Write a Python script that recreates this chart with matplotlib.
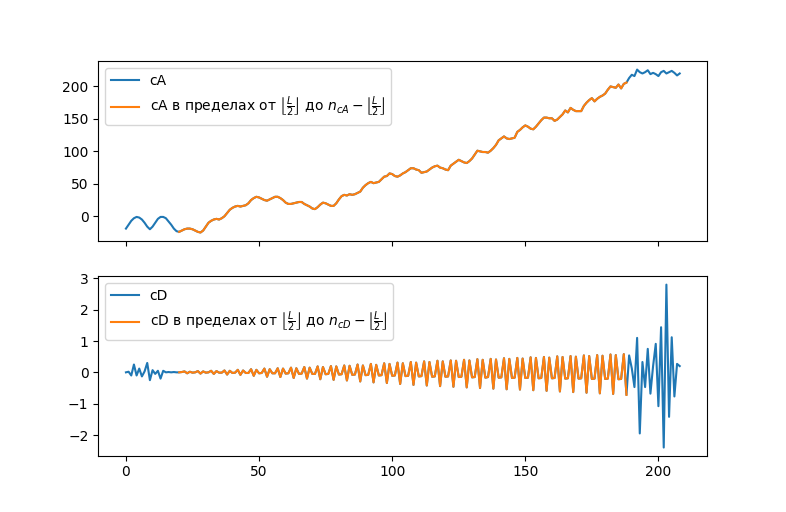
import numpy as np
import matplotlib
matplotlib.use('Agg')
import matplotlib.pyplot as plt

# half filter length, orange part runs from L/2 to n - L/2
half_L = 20

cA = [-19, -13, -7, -3, -1, -2, -5, -10, -16, -20,
      -16, -10, -4, -1, -1, -3, -8, -13, -19, -23,
      -24, -22, -20, -19, -19, -20, -22, -24, -25, -22,
      -16, -10, -7, -5, -4, -5, -3, 0, 5, 10,
      13, 15, 16, 15, 16, 17, 20, 25, 28, 30,
      29, 27, 25, 24, 26, 28, 30, 30, 28, 25,
      21, 19, 19, 20, 21, 22, 22, 19, 17, 15,
      12, 11, 14, 18, 21, 20, 18, 16, 16, 20,
      26, 31, 33, 32, 34, 33, 34, 36, 38, 44,
      48, 51, 53, 51, 52, 53, 57, 61, 62, 66,
      65, 62, 61, 63, 66, 68, 71, 74, 74, 72,
      71, 67, 68, 69, 72, 75, 77, 78, 75, 74,
      72, 71, 78, 81, 84, 87, 85, 83, 82, 85,
      89, 95, 101, 100, 99, 99, 98, 101, 105, 110,
      117, 120, 123, 120, 119, 120, 121, 130, 133, 137,
      140, 138, 135, 134, 138, 143, 148, 152, 152, 151,
      151, 147, 149, 153, 157, 163, 160, 167, 164, 162,
      162, 162, 170, 175, 179, 182, 177, 181, 184, 186,
      189, 195, 200, 199, 198, 203, 197, 204, 206, 213,
      218, 216, 226, 222, 220, 222, 225, 219, 221, 219,
      216, 222, 224, 220, 222, 224, 221, 217, 220]

cD = [0.00, 0.02, -0.10, 0.25, -0.10, 0.12, -0.13, 0.03, 0.30, -0.25,
      0.07, -0.05, 0.05, -0.20, 0.05, 0.00, 0.01, 0.00, 0.01, 0.00,
      0.00, 0.01, 0.03, -0.03, 0.02, -0.01, 0.00, 0.04, -0.04, 0.03,
      -0.01, 0.00, 0.05, -0.05, 0.04, -0.01, -0.01, 0.06, -0.07, 0.05,
      -0.02, -0.01, 0.08, -0.08, 0.06, -0.02, -0.02, 0.10, -0.11, 0.08,
      -0.03, -0.02, 0.12, -0.14, 0.10, -0.03, -0.03, 0.13, -0.15, 0.12,
      -0.04, -0.03, 0.15, -0.18, 0.13, -0.05, -0.04, 0.17, -0.20, 0.15,
      -0.05, -0.05, 0.19, -0.22, 0.17, -0.06, -0.05, 0.20, -0.24, 0.19,
      -0.07, -0.06, 0.22, -0.26, 0.21, -0.08, -0.07, 0.25, -0.29, 0.22,
      -0.09, -0.08, 0.27, -0.32, 0.24, -0.10, -0.09, 0.29, -0.34, 0.27,
      -0.11, -0.10, 0.31, -0.37, 0.29, -0.12, -0.11, 0.33, -0.40, 0.31,
      -0.13, -0.12, 0.35, -0.42, 0.33, -0.14, -0.13, 0.37, -0.44, 0.35,
      -0.14, -0.13, 0.38, -0.46, 0.37, -0.15, -0.14, 0.40, -0.48, 0.38,
      -0.16, -0.15, 0.42, -0.50, 0.40, -0.17, -0.15, 0.43, -0.52, 0.41,
      -0.17, -0.16, 0.45, -0.54, 0.43, -0.18, -0.17, 0.46, -0.55, 0.44,
      -0.18, -0.17, 0.48, -0.57, 0.46, -0.19, -0.18, 0.49, -0.59, 0.47,
      -0.19, -0.18, 0.51, -0.61, 0.49, -0.20, -0.19, 0.52, -0.63, 0.50,
      -0.20, -0.19, 0.54, -0.65, 0.52, -0.21, -0.20, 0.55, -0.67, 0.53,
      -0.21, -0.20, 0.57, -0.69, 0.55, -0.22, -0.21, 0.58, -0.72, 0.54,
      0.13, -0.47, 1.10, -1.95, 0.33, -0.47, 0.75, -0.68, 0.20, 0.91,
      -1.08, 1.44, -2.40, 2.80, -1.42, 1.12, -0.77, 0.27, 0.20]

cA = np.array(cA)
cD = np.array(cD)

lbl = r'в пределах от $\left\lfloor\frac{L}{2}\right\rfloor$ до $n_{%s} - \left\lfloor\frac{L}{2}\right\rfloor$'

fig, (ax1, ax2) = plt.subplots(2, 1, sharex=True, figsize=(7.86, 5.12), dpi=100)

x = np.arange(len(cA))
ax1.plot(x, cA, label='cA')
ax1.plot(x[half_L:len(cA) - half_L], cA[half_L:len(cA) - half_L], label='cA ' + lbl % 'cA')
ax1.legend(loc='upper left')

x = np.arange(len(cD))
ax2.plot(x, cD, label='cD')
ax2.plot(x[half_L:len(cD) - half_L], cD[half_L:len(cD) - half_L], label='cD ' + lbl % 'cD')
ax2.legend(loc='upper left')

plt.savefig('out.png')
